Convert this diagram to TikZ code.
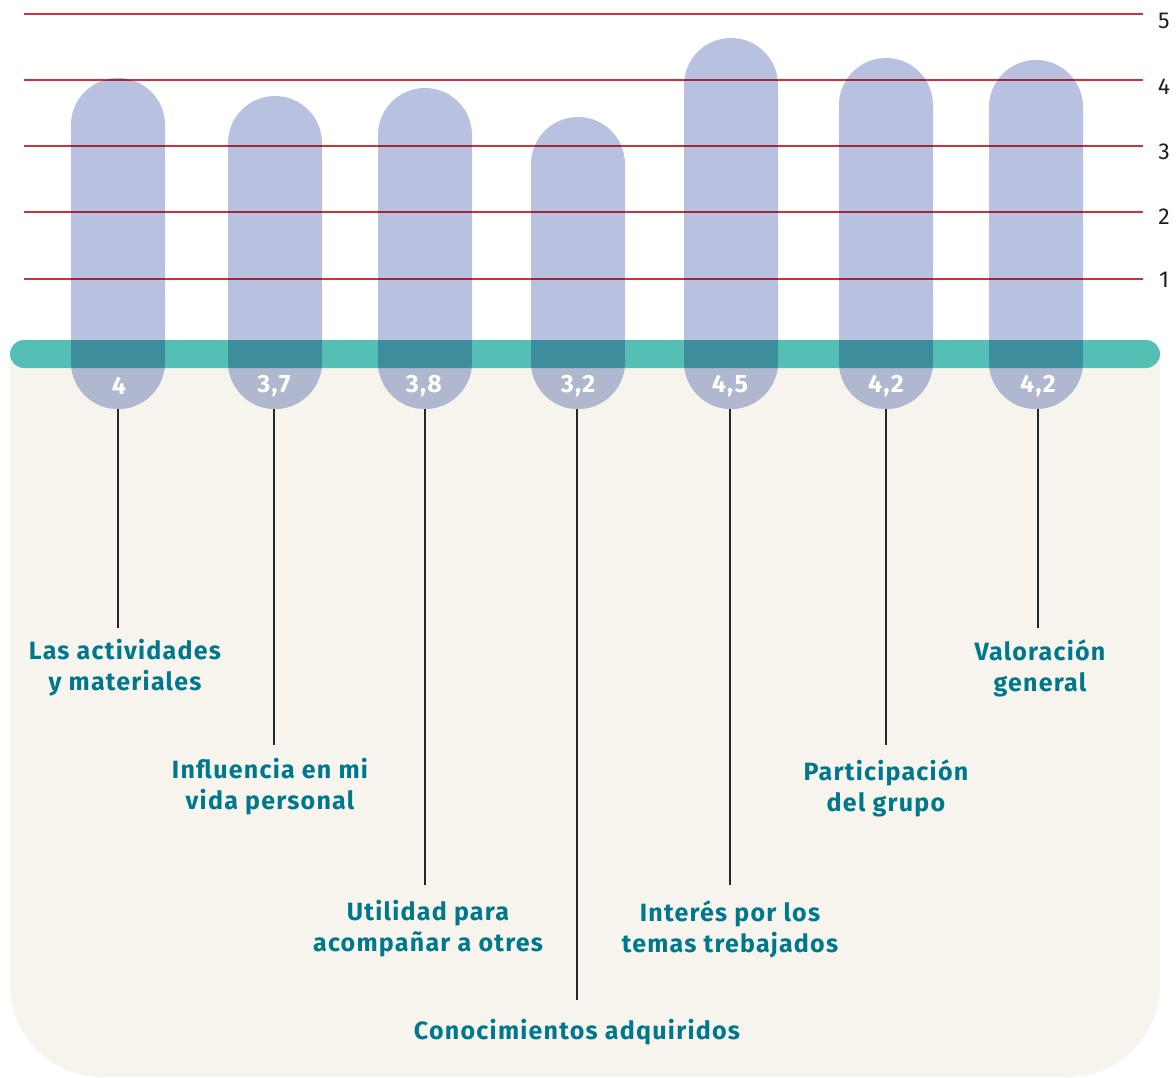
\documentclass[tikz,border=0pt]{standalone}
\usepackage{fontspec}
\setmainfont{Fira Sans}
\newfontfamily\labfont[LetterSpace=5]{Fira Sans}
\definecolor{beige}{RGB}{247,244,238}
\definecolor{bandc}{RGB}{85,191,182}
\definecolor{barc}{RGB}{184,194,224}
\definecolor{barbeige}{RGB}{176,184,208}
\definecolor{barband}{RGB}{61,142,157}
\definecolor{gridred}{RGB}{210,48,58}
\definecolor{gridredd}{RGB}{155,40,52}
\definecolor{labc}{RGB}{0,120,140}
\definecolor{axc}{RGB}{30,30,30}
\tikzset{
  valtxt/.style={text=white, font=\labfont\bfseries\fontsize{25}{28}\selectfont, inner sep=0pt},
  labtxt/.style={text=labc, font=\labfont\bfseries\fontsize{25}{31}\selectfont, align=center, inner sep=0pt},
  axtxt/.style={text=axc, font=\fontsize{23}{26}\selectfont, inner sep=0pt},
  gridline/.style={draw=gridred, line width=1.2pt},
  conn/.style={draw=black!85, line width=1.8pt},
}
\begin{document}
\begin{tikzpicture}[x=1pt,y=-1pt]
\useasboundingbox (0,0) rectangle (1176,1077);
% beige background
\fill[beige] (10,354) -- (10,985) arc[start angle=180,end angle=90,radius=92] -- (1068,1077) arc[start angle=90,end angle=0,radius=92] -- (1160,354) -- cycle;
% band
\fill[bandc, rounded corners=14pt] (10,340) rectangle (1160,368);
% grid lines
\foreach \yy in {14,80,146,212,279} \draw[gridline] (24,\yy) -- (1143,\yy);
% bars
\foreach \x/\t in {118/78,275/96,425/88,578/117,731/38,886/58,1036/60}{
  \fill[barc, rounded corners=47pt] (\x-47,\t) rectangle (\x+47,409);
  \begin{scope}
    \clip (0,368) rectangle (1176,1077);
    \fill[barbeige, rounded corners=47pt] (\x-47,\t) rectangle (\x+47,409);
  \end{scope}
  \begin{scope}
    \clip[rounded corners=14pt] (10,340) rectangle (1160,368);
    \fill[barband, rounded corners=47pt] (\x-47,\t) rectangle (\x+47,409);
  \end{scope}
  \begin{scope}
    \clip[rounded corners=47pt] (\x-47,\t) rectangle (\x+47,409);
    \foreach \yy in {14,80,146,212,279} \draw[draw=gridredd, line width=1.2pt] (24,\yy) -- (1143,\yy);
  \end{scope}
}
% axis numbers
\node[axtxt] (a5) at (1164,21) {5};
\node[axtxt] (a4) at (1164,87) {4};
\node[axtxt] (a3) at (1164,152) {3};
\node[axtxt] (a2) at (1164,217) {2};
\node[axtxt] (a1) at (1164,280) {1};
% values
\node[valtxt] (v1) at (119,386) {4};
\node[valtxt] (v2) at (274,386) {3,7};
\node[valtxt] (v3) at (424,386) {3,8};
\node[valtxt] (v4) at (578,386) {3,2};
\node[valtxt] (v5) at (730,386) {4,5};
\node[valtxt] (v6) at (886,386) {4,2};
\node[valtxt] (v7) at (1038,386) {4,2};
% connector ends
\coordinate (b1) at (118,409); \coordinate (e1) at (118,628);
\coordinate (b2) at (274,409); \coordinate (e2) at (274,745);
\coordinate (b3) at (425,409); \coordinate (e3) at (425,885);
\coordinate (b4) at (577,409); \coordinate (e4) at (577,1000);
\coordinate (b5) at (730,409); \coordinate (e5) at (730,885);
\coordinate (b6) at (886,409); \coordinate (e6) at (886,745);
\coordinate (b7) at (1038,409); \coordinate (e7) at (1038,628);
\foreach \i in {1,...,7} \draw[conn] (b\i) -- (e\i);
% labels
\node[labtxt] (l1) at (125,668) {Las actividades\\y materiales};
\node[labtxt] (l2) at (270,787) {Influencia en mi\\vida personal};
\node[labtxt] (l3) at (428,929) {Utilidad para\\acompañar a otres};
\node[labtxt] (l4) at (577,1032) {Conocimientos adquiridos};
\node[labtxt] (l5) at (730,929) {Interés por los\\temas trebajados};
\node[labtxt] (l6) at (886,788) {Participación\\del grupo};
\node[labtxt] (l7) at (1040,668) {Valoración\\general};
\end{tikzpicture}
\end{document}
